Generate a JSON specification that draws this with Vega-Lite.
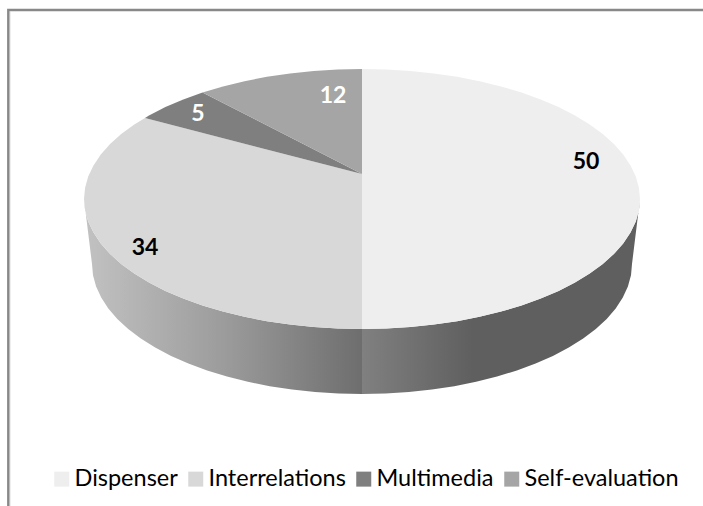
{"$schema":"https://vega.github.io/schema/vega-lite/v6.json","width":703,"height":506,"padding":0,"autosize":"none","background":"#ffffff","config":{"view":{"stroke":null}},
"datasets":{
"frame":[{"x":8.3,"y":506},{"x":8.3,"y":10},{"x":703,"y":10}],
"inner":[{"x":10,"y":506},{"x":10,"y":11.5}],
"wallR":[{"x":640,"y":199},{"x":638.9,"y":210.3},{"x":635.8,"y":221.6},{"x":630.5,"y":232.6},{"x":623.2,"y":243.5},{"x":613.9,"y":253.9},{"x":602.8,"y":264},{"x":589.7,"y":273.6},{"x":575,"y":282.6},{"x":558.6,"y":290.9},{"x":540.7,"y":298.6},{"x":521.5,"y":305.5},{"x":501,"y":311.6},{"x":479.5,"y":316.8},{"x":457.1,"y":321.2},{"x":433.9,"y":324.6},{"x":410.3,"y":327},{"x":386.2,"y":328.5},{"x":362,"y":329},{"x":362,"y":394},{"x":385.5,"y":393.5},{"x":408.9,"y":392},{"x":431.9,"y":389.6},{"x":454.3,"y":386.2},{"x":476.1,"y":381.8},{"x":497,"y":376.6},{"x":516.9,"y":370.5},{"x":535.6,"y":363.6},{"x":552.9,"y":355.9},{"x":568.8,"y":347.6},{"x":583.2,"y":338.6},{"x":595.8,"y":329},{"x":606.7,"y":318.9},{"x":615.7,"y":308.5},{"x":622.8,"y":297.6},{"x":627.9,"y":286.6},{"x":631,"y":275.3},{"x":632,"y":264}],
"wallL":[{"x":362,"y":329},{"x":337.8,"y":328.5},{"x":313.7,"y":327},{"x":290.1,"y":324.6},{"x":266.9,"y":321.2},{"x":244.5,"y":316.8},{"x":223,"y":311.6},{"x":202.5,"y":305.5},{"x":183.3,"y":298.6},{"x":165.4,"y":290.9},{"x":149,"y":282.6},{"x":134.3,"y":273.6},{"x":121.2,"y":264},{"x":110.1,"y":253.9},{"x":100.8,"y":243.5},{"x":93.5,"y":232.6},{"x":88.2,"y":221.6},{"x":85.1,"y":210.3},{"x":84,"y":199},{"x":92,"y":264},{"x":93,"y":275.3},{"x":96.1,"y":286.6},{"x":101.2,"y":297.6},{"x":108.3,"y":308.5},{"x":117.3,"y":318.9},{"x":128.2,"y":329},{"x":140.8,"y":338.6},{"x":155.2,"y":347.6},{"x":171.1,"y":355.9},{"x":188.4,"y":363.6},{"x":207.1,"y":370.5},{"x":227,"y":376.6},{"x":247.9,"y":381.8},{"x":269.7,"y":386.2},{"x":292.1,"y":389.6},{"x":315.1,"y":392},{"x":338.5,"y":393.5},{"x":362,"y":394}],
"tops":[
{"s":"Interrelations","x":362,"y":174},{"s":"Interrelations","x":362,"y":329},{"s":"Interrelations","x":337.8,"y":328.5},{"s":"Interrelations","x":313.7,"y":327},{"s":"Interrelations","x":290.1,"y":324.6},{"s":"Interrelations","x":266.9,"y":321.2},{"s":"Interrelations","x":244.5,"y":316.8},{"s":"Interrelations","x":223,"y":311.6},{"s":"Interrelations","x":202.5,"y":305.5},{"s":"Interrelations","x":183.3,"y":298.6},{"s":"Interrelations","x":165.4,"y":290.9},{"s":"Interrelations","x":149,"y":282.6},{"s":"Interrelations","x":134.3,"y":273.6},{"s":"Interrelations","x":121.2,"y":264},{"s":"Interrelations","x":110.1,"y":253.9},{"s":"Interrelations","x":100.8,"y":243.5},{"s":"Interrelations","x":93.5,"y":232.6},{"s":"Interrelations","x":88.2,"y":221.6},{"s":"Interrelations","x":85.1,"y":210.3},{"s":"Interrelations","x":84,"y":199},{"s":"Interrelations","x":85.1,"y":187.7},{"s":"Interrelations","x":88.2,"y":176.4},{"s":"Interrelations","x":93.5,"y":165.4},{"s":"Interrelations","x":100.8,"y":154.5},{"s":"Interrelations","x":110.1,"y":144.1},{"s":"Interrelations","x":121.2,"y":134},{"s":"Interrelations","x":134.3,"y":124.4},{"s":"Interrelations","x":145,"y":118},
{"s":"Multimedia","x":362,"y":174},{"s":"Multimedia","x":145,"y":118},{"s":"Multimedia","x":149,"y":115.4},{"s":"Multimedia","x":165.4,"y":107.1},{"s":"Multimedia","x":183.3,"y":99.4},{"s":"Multimedia","x":202.5,"y":92.5},
{"s":"Self-evaluation","x":362,"y":174},{"s":"Self-evaluation","x":202.5,"y":92.5},{"s":"Self-evaluation","x":223,"y":86.4},{"s":"Self-evaluation","x":244.5,"y":81.2},{"s":"Self-evaluation","x":266.9,"y":76.8},{"s":"Self-evaluation","x":290.1,"y":73.4},{"s":"Self-evaluation","x":313.7,"y":71},{"s":"Self-evaluation","x":337.8,"y":69.5},{"s":"Self-evaluation","x":362,"y":69},
{"s":"Dispenser","x":362,"y":174},{"s":"Dispenser","x":362,"y":69},{"s":"Dispenser","x":386.2,"y":69.5},{"s":"Dispenser","x":410.3,"y":71},{"s":"Dispenser","x":433.9,"y":73.4},{"s":"Dispenser","x":457.1,"y":76.8},{"s":"Dispenser","x":479.5,"y":81.2},{"s":"Dispenser","x":501,"y":86.4},{"s":"Dispenser","x":521.5,"y":92.5},{"s":"Dispenser","x":540.7,"y":99.4},{"s":"Dispenser","x":558.6,"y":107.1},{"s":"Dispenser","x":575,"y":115.4},{"s":"Dispenser","x":589.7,"y":124.4},{"s":"Dispenser","x":602.8,"y":134},{"s":"Dispenser","x":613.9,"y":144.1},{"s":"Dispenser","x":623.2,"y":154.5},{"s":"Dispenser","x":630.5,"y":165.4},{"s":"Dispenser","x":635.8,"y":176.4},{"s":"Dispenser","x":638.9,"y":187.7},{"s":"Dispenser","x":640,"y":199},{"s":"Dispenser","x":638.9,"y":210.3},{"s":"Dispenser","x":635.8,"y":221.6},{"s":"Dispenser","x":630.5,"y":232.6},{"s":"Dispenser","x":623.2,"y":243.5},{"s":"Dispenser","x":613.9,"y":253.9},{"s":"Dispenser","x":602.8,"y":264},{"s":"Dispenser","x":589.7,"y":273.6},{"s":"Dispenser","x":575,"y":282.6},{"s":"Dispenser","x":558.6,"y":290.9},{"s":"Dispenser","x":540.7,"y":298.6},{"s":"Dispenser","x":521.5,"y":305.5},{"s":"Dispenser","x":501,"y":311.6},{"s":"Dispenser","x":479.5,"y":316.8},{"s":"Dispenser","x":457.1,"y":321.2},{"s":"Dispenser","x":433.9,"y":324.6},{"s":"Dispenser","x":410.3,"y":327},{"s":"Dispenser","x":386.2,"y":328.5},{"s":"Dispenser","x":362,"y":329}],
"labels":[{"s":"Dispenser","value":50,"x":586,"y":162},{"s":"Interrelations","value":34,"x":145,"y":248},{"s":"Multimedia","value":5,"x":198,"y":114},{"s":"Self-evaluation","value":12,"x":333,"y":96}]
},
"encoding":{
"x":{"field":"x","type":"quantitative","scale":{"domain":[0,703],"nice":false,"zero":false},"axis":null},
"y":{"field":"y","type":"quantitative","scale":{"domain":[0,506],"reverse":true,"nice":false,"zero":false},"axis":null},
"order":{"value":null}},
"layer":[
{"data":{"name":"inner"},"mark":{"type":"line","stroke":"#dddddd","strokeWidth":1}},
{"data":{"name":"frame"},"mark":{"type":"line","stroke":"#888888","strokeWidth":2.4,"clip":true}},
{"data":{"name":"wallL"},"mark":{"type":"line","filled":true,"stroke":null,"fill":{"gradient":"linear","x1":0,"y1":0,"x2":1,"y2":0,"stops":[{"offset":0,"color":"#c2c2c2"},{"offset":0.5,"color":"#9c9c9c"},{"offset":1,"color":"#6e6e6e"}]}}},
{"data":{"name":"wallR"},"mark":{"type":"line","filled":true,"stroke":null,"fill":{"gradient":"linear","x1":0,"y1":0,"x2":1,"y2":0,"stops":[{"offset":0,"color":"#808080"},{"offset":0.4,"color":"#5f5f5f"},{"offset":1,"color":"#5f5f5f"}]}}},
{"data":{"name":"tops"},"mark":{"type":"line","filled":true,"stroke":null},
"encoding":{"color":{"field":"s","type":"nominal","scale":{"domain":["Dispenser","Interrelations","Multimedia","Self-evaluation"],"range":["#eeeeee","#d8d8d8","#7f7f7f","#a5a5a5"]},
"legend":{"title":null,"orient":"none","legendX":50,"legendY":467,"direction":"horizontal","columns":4,"symbolType":"square","symbolSize":225,"symbolStrokeWidth":0,"labelFont":"Lato","labelFontSize":23.5,"labelColor":"#000000","labelLimit":220,"columnPadding":6,"labelOffset":1}}}},
{"data":{"name":"labels"},"mark":{"type":"text","font":"Lato","fontWeight":"bold","fontSize":23,"baseline":"middle","align":"center"},
"encoding":{"text":{"field":"value","type":"quantitative"},"color":{"condition":{"test":"datum.value<20","value":"#ffffff"},"value":"#000000"}}}
]}
